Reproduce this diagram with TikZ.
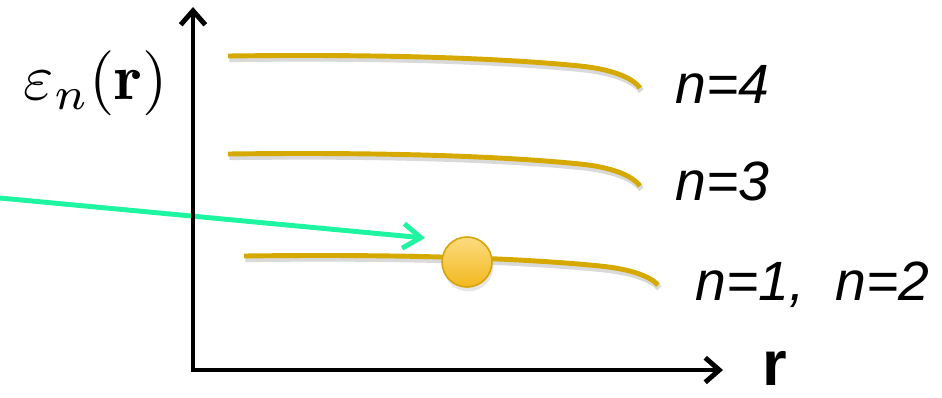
\documentclass[tikz,border=0pt]{standalone}
\usepackage{amsmath,amssymb}
\usepackage{fontspec}
\setsansfont{Liberation Sans}
\usepackage{xcolor}
\usepackage{tikz}
\usetikzlibrary{arrows.meta, positioning, shadows}
\definecolor{bandcol}{RGB}{214,169,0}
\definecolor{probecol}{RGB}{29,245,160}
\definecolor{ballhi}{RGB}{252,219,128}
\definecolor{balllo}{RGB}{242,184,30}
\definecolor{ballrim}{RGB}{214,163,10}
\tikzstyle{axis} = [line width=2.8pt, line join=miter, >={Straight Barb[length=8pt, width=14pt]}]
\tikzstyle{band} = [draw=bandcol, line width=2.8pt, preaction={draw=black, opacity=0.15, line width=3.4pt, transform canvas={shift={(0.8pt,-1.8pt)}}}]
\tikzstyle{probe} = [draw=probecol, line width=2.8pt, ->, >={Straight Barb[length=10pt, width=14pt]}]
\tikzstyle{ball} = [circle, minimum size=1cm, inner sep=0pt, draw=ballrim, line width=0.9pt, top color=ballhi, bottom color=balllo, drop shadow={opacity=0.2, shadow xshift=0.8pt, shadow yshift=-2.5pt}]
\tikzstyle{lvl} = [font=\fontsize{31.5}{36}\selectfont\sffamily\itshape, inner sep=0pt, anchor=base west]

\begin{document}
\begin{tikzpicture}[x=0.02cm, y=-0.02cm]
    \useasboundingbox (0,0) rectangle (942,397);

    % points of the axes and the levels
    \coordinate (O) at (193,370);
    \coordinate (ytop) at (193,7);
    \coordinate (xend) at (723,370);
    \coordinate (e4a) at (228,56);
    \coordinate (e4b) at (640,88);
    \coordinate (e3a) at (228,154);
    \coordinate (e3b) at (640,186);
    \coordinate (e1a) at (244,256);
    \coordinate (e1b) at (658,285);
    \coordinate (src) at (0,198);
    \coordinate (hit) at (425,238);

    % levels
    \draw [band] (e4a) .. controls (380,54) and (500,58) .. (580,66) .. controls (610,69) and (632,77) .. (e4b);
    \draw [band] (e3a) .. controls (380,152) and (500,156) .. (580,164) .. controls (610,167) and (632,175) .. (e3b);
    \draw [band] (e1a) .. controls (400,254) and (520,258) .. (600,266) .. controls (630,269) and (650,276) .. (e1b);

    \node (electron) [ball] at (467,262) {};

    \draw [probe] (src) -- (hit);
    \draw [axis, <->] (ytop) -- (O) -- (xend);

    % labels
    \node (ylab) [scale=3.7, inner sep=0pt] at (96,83) {$\varepsilon_n(\mathbf{r})$};
    \node (xlab) [font=\fontsize{36}{38}\selectfont\sffamily\bfseries, inner sep=0pt, anchor=base west] at (762,385) {r};
    \node (lab4) [lvl] at (675,103) {n=4};
    \node (lab3) [lvl] at (675,200) {n=3};
    \node (lab12) [lvl] at (695,300) {n=1,\ \ n=2};
\end{tikzpicture}
\end{document}
